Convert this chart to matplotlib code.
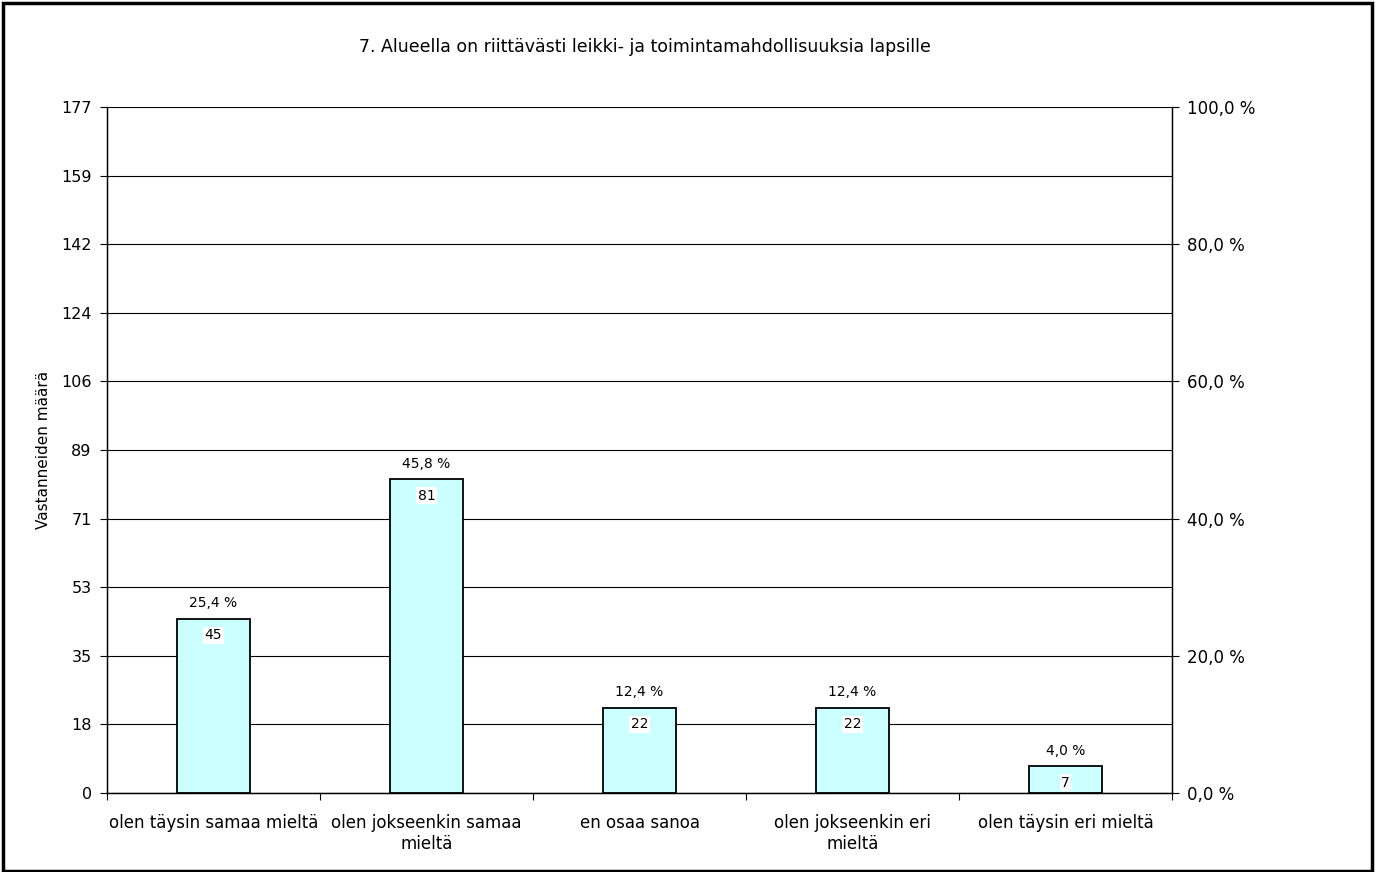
import matplotlib
matplotlib.use("Agg")
import matplotlib.pyplot as plt
import numpy as np

# data
categories = ["olen täysin samaa mieltä", "olen jokseenkin samaa\nmieltä", "en osaa sanoa",
              "olen jokseenkin eri\nmieltä", "olen täysin eri mieltä"]
counts = [45, 81, 22, 22, 7]
percents = [25.4, 45.8, 12.4, 12.4, 4.0]
left_tick_labels = ["0", "18", "35", "53", "71", "89", "106", "124", "142", "159", "177"]
right_tick_values = [0, 20, 40, 60, 80, 100]
total = 177

plt.rcParams['font.family'] = ['DejaVu Sans']


def fi_pct(v):
    return ("%.1f %%" % v).replace(".", ",")


fig = plt.figure(figsize=(13.8, 8.72), dpi=100)
ax = fig.add_axes([107 / 1380, 1 - 793 / 872, (1172 - 107) / 1380, (793 - 107) / 872])

x = np.arange(len(categories))
ax.bar(x, counts, width=0.34, color="#ccffff", edgecolor="black", linewidth=1.3, zorder=3)

ax.set_xlim(-0.5, len(categories) - 0.5)
ax.set_ylim(0, total)
ax.set_yticks(np.linspace(0, total, len(left_tick_labels)))
ax.set_yticklabels(left_tick_labels, fontsize=11.5)
ax.yaxis.grid(True, color="black", linewidth=0.8, zorder=0)
ax.set_ylabel("Vastanneiden määrä", fontsize=11, labelpad=7)

# category ticks sit at the boundaries between bars
ax.set_xticks(np.arange(-0.5, len(categories), 1.0))
ax.set_xticklabels([])
ax.set_xticks(x, minor=True)
ax.set_xticklabels(categories, minor=True, fontsize=12)
ax.tick_params(axis="x", which="minor", length=0, pad=15)
ax.tick_params(axis="x", which="major", length=5, direction="out")
ax.tick_params(axis="y", length=5, direction="out", pad=6)

ax.spines["top"].set_visible(False)
for s in ["left", "right", "bottom"]:
    ax.spines[s].set_linewidth(1.0)

ax2 = ax.twinx()
ax2.set_ylim(0, 100)
ax2.set_yticks(right_tick_values)
ax2.set_yticklabels([fi_pct(v) for v in right_tick_values], fontsize=12)
ax2.yaxis.set_tick_params(length=5, direction="out", pad=6)
ax2.spines["top"].set_visible(False)
ax2.set_zorder(0)

for xi, c, p in zip(x, counts, percents):
    ax.annotate(fi_pct(p), (xi, c), xytext=(0, 6), textcoords="offset points",
                ha="center", va="bottom", fontsize=10, zorder=5)
    ax.annotate(str(c), (xi, c), xytext=(0, -7), textcoords="offset points",
                ha="center", va="top", fontsize=10, zorder=5,
                bbox=dict(boxstyle="square,pad=0.1", fc="white", ec="none"))

fig.text(645 / 1380, 1 - 47 / 872,
         "7. Alueella on riittävästi leikki- ja toimintamahdollisuuksia lapsille",
         ha="center", va="center", fontsize=12.5)

# outer frame
fig.patches.append(plt.Rectangle((3 / 1380, 1 / 872), 1369 / 1380, 868 / 872, transform=fig.transFigure,
                                 fill=False, edgecolor="black", linewidth=2.5))

fig.savefig("out.png", dpi=100)
